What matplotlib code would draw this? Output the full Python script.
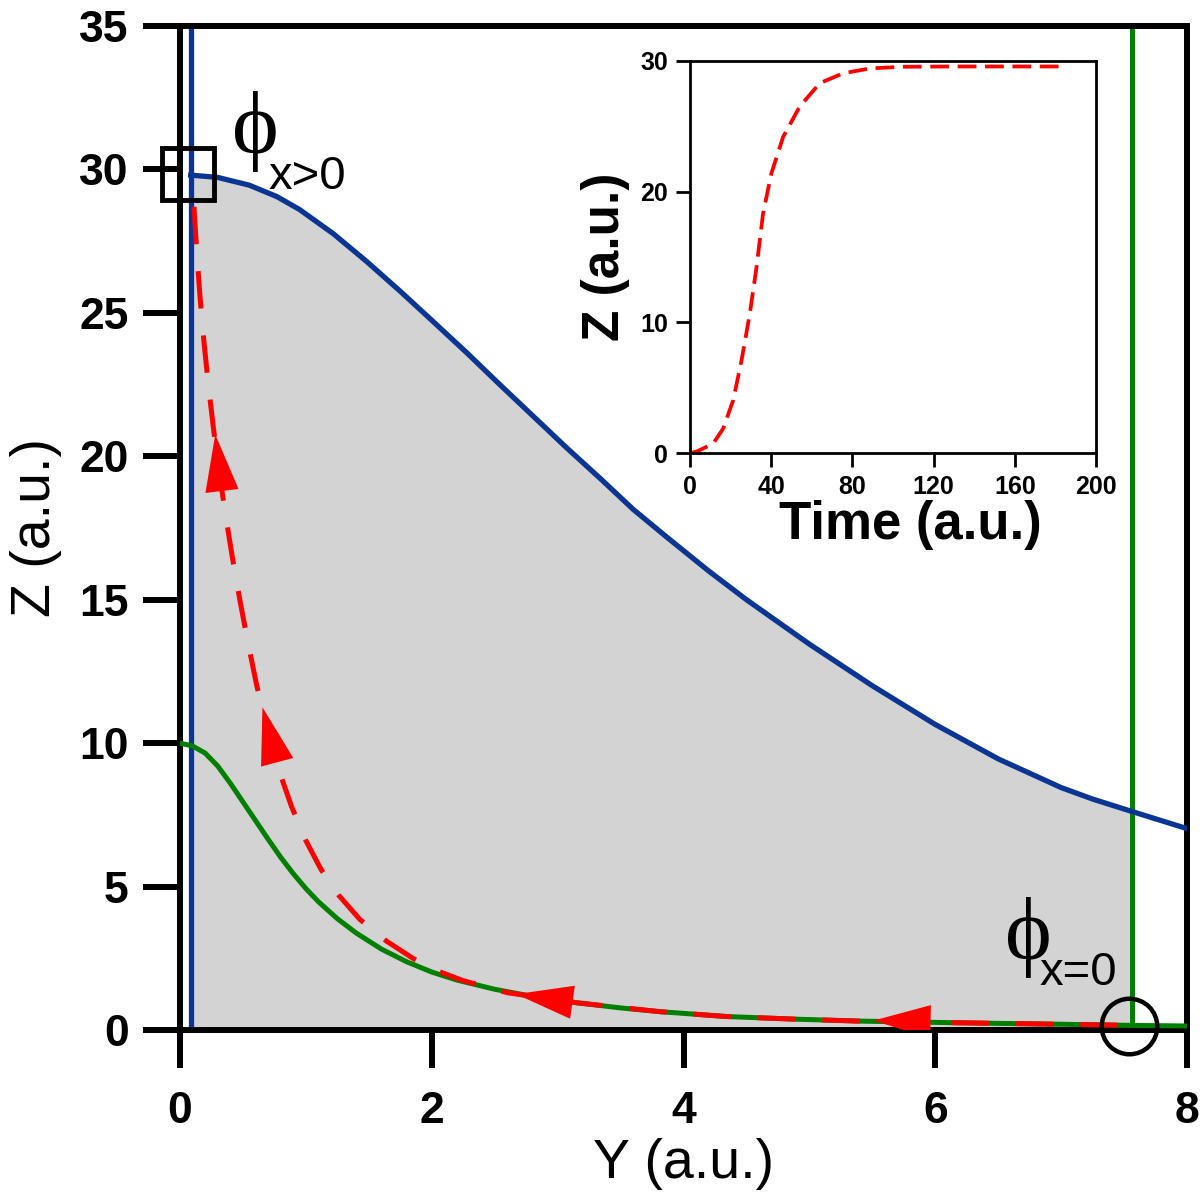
import numpy as np
import matplotlib
matplotlib.use("Agg")
import matplotlib.pyplot as plt
from matplotlib.patches import FancyArrowPatch

plt.rcParams['font.family'] = ['Liberation Sans', 'DejaVu Sans']

# upper (blue) boundary curve
blue_y = np.array([0.085, 0.3, 0.55, 0.77, 0.95, 1.22, 1.48, 1.75, 2.01, 2.28, 2.54, 2.81,
                   3.07, 3.34, 3.60, 3.87, 4.2, 4.5, 5.0, 5.5, 6.0, 6.5, 7.0, 7.25, 7.56, 8.0])
blue_z = np.array([29.8, 29.72, 29.45, 29.05, 28.6, 27.75, 26.8, 25.75, 24.7, 23.6, 22.5, 21.38,
                   20.3, 19.22, 18.15, 17.17, 16.0, 15.0, 13.45, 12.0, 10.65, 9.45, 8.45, 8.05,
                   7.62, 7.02])

# lower (green) curve
green_y = np.array([0.0, 0.1, 0.2, 0.3, 0.4, 0.5, 0.6, 0.7, 0.8, 0.9, 1.0, 1.1, 1.25, 1.4, 1.6,
                    1.8, 2.0, 2.2, 2.5, 2.8, 3.15, 3.5, 3.81, 4.34, 4.87, 5.4, 6.2, 7.0, 7.56, 8.0])
green_z = np.array([10.0, 9.9, 9.65, 9.2, 8.6, 7.95, 7.3, 6.65, 6.02, 5.45, 4.93, 4.47, 3.88, 3.38,
                    2.82, 2.38, 2.02, 1.74, 1.42, 1.17, 0.95, 0.77, 0.64, 0.47, 0.38, 0.31, 0.25,
                    0.2, 0.16, 0.14])

# vertical boundaries
blue_line_y = 0.085
green_line_y = 7.56

# red trajectory (in order of travel)
red_y = [7.45, 7.0, 6.2, 5.4, 4.87, 4.34, 3.81, 3.15, 2.6, 2.25, 2.02, 1.85, 1.64, 1.43, 1.26,
         1.12, 1.0, 0.885, 0.79, 0.695, 0.61, 0.54, 0.475, 0.415, 0.36, 0.31, 0.265, 0.225,
         0.19, 0.16, 0.135, 0.115, 0.10]
red_z = [0.17, 0.2, 0.25, 0.31, 0.38, 0.47, 0.64, 0.95, 1.30, 1.72, 2.1, 2.5, 3.1, 3.85, 4.7,
         5.6, 6.6, 7.8, 9.0, 10.5, 12.0, 13.5, 15.0, 16.5, 18.0, 19.5, 21.0, 22.5, 24.0, 25.5,
         27.0, 28.4, 29.6]

# arrow heads along the trajectory: (base, tip)
arrow_base = [(6.03, 0.28), (3.13, 0.96), (0.78, 9.2), (0.335, 18.73)]
arrow_tip = [(5.51, 0.33), (2.67, 1.25), (0.655, 11.25), (0.28, 20.76)]

# fixed points
start_pt = (7.54, 0.14)
end_pt = (0.066, 29.84)

# inset: Z against time
t_vals = [0, 3, 6.5, 11.5, 16.4, 21.3, 25.4, 29.5, 32.8, 36.0, 40.1, 45.9, 54, 63.9, 75.3,
          88.5, 104.8, 130, 160, 185]
t_z = [0, 0.1, 0.35, 0.74, 1.89, 4.05, 7.1, 10.69, 14.25, 18.34, 21.4, 24.2, 26.5, 28.3, 29.05,
       29.43, 29.56, 29.58, 29.58, 29.58]

fig = plt.figure(figsize=(12, 11.96), dpi=100)
ax = fig.add_axes([0.15, 0.1388, 0.8392, 0.8395])

inside = blue_y <= green_line_y
ax.fill_between(blue_y[inside], 0, blue_z[inside], color='#d3d3d3', lw=0, zorder=1)
ax.axvline(blue_line_y, color='#0a3595', lw=3.8, zorder=2)
ax.axvline(green_line_y, color='#008000', lw=3.6, zorder=2)
ax.plot(blue_y, blue_z, color='#0a3595', lw=3.8, zorder=3)
ax.plot(green_y, green_z, color='#008000', lw=3.6, zorder=3)
ax.plot(red_y, red_z, color='red', lw=3.6, dashes=(7.5, 5.4), zorder=4)

for b, t in zip(arrow_base, arrow_tip):
    ar = FancyArrowPatch(b, t, arrowstyle='-|>,head_length=41,head_width=12',
                         mutation_scale=1, shrinkA=0, shrinkB=0, color='red', lw=0, zorder=5)
    ax.add_patch(ar)

ax.plot(*end_pt, marker='s', ms=37, mfc='none', mec='black', mew=3.5, clip_on=False, zorder=6)
ax.plot(*start_pt, marker='o', ms=40, mfc='none', mec='black', mew=3.2, clip_on=False, zorder=6)

ax.set_xlim(0, 8)
ax.set_ylim(0, 35)
ax.set_xticks([0, 2, 4, 6, 8])
ax.set_yticks([0, 5, 10, 15, 20, 25, 30, 35])
ax.tick_params(direction='out', length=27, width=4.3, labelsize=32)
ax.tick_params(axis='x', pad=17)
ax.tick_params(axis='y', pad=10)
for lab in ax.get_xticklabels() + ax.get_yticklabels():
    lab.set_fontweight('bold')
for s in ax.spines.values():
    s.set_linewidth(4.3)
ax.set_xlabel('Y (a.u.)', fontsize=40)
ax.set_ylabel('Z (a.u.)', fontsize=40)
ax.xaxis.set_label_coords(0.5, -0.108)
ax.yaxis.set_label_coords(-0.117, 0.5)

# phi labels
ax.text(0.41, 32.74, '\u03d5', fontsize=64, family=['Liberation Serif', 'DejaVu Serif'],
        ha='left', va='top', zorder=7)
ax.text(0.70, 30.5, 'x>0', fontsize=34, ha='left', va='top', zorder=7)
ax.text(6.55, 4.63, '\u03d5', fontsize=64, family=['Liberation Serif', 'DejaVu Serif'],
        ha='left', va='top', zorder=7)
ax.text(6.83, 2.75, 'x=0', fontsize=34, ha='left', va='top', zorder=7)

# inset
ins = fig.add_axes([0.575, 0.6212, 0.3383, 0.3278])
ins.plot(t_vals, t_z, color='red', lw=2.7, dashes=(5, 2.3))
ins.set_xlim(0, 200)
ins.set_ylim(0, 30)
ins.set_xticks([0, 40, 80, 120, 160, 200])
ins.set_yticks([0, 10, 20, 30])
ins.tick_params(direction='out', length=10, width=2, labelsize=18, pad=6)
for lab in ins.get_xticklabels() + ins.get_yticklabels():
    lab.set_fontweight('bold')
for s in ins.spines.values():
    s.set_linewidth(2)
ins.set_xlabel('Time (a.u.)', fontsize=38, fontweight='bold')
ins.set_ylabel('Z (a.u.)', fontsize=37, fontweight='bold')
ins.xaxis.set_label_coords(0.542, -0.12)
ins.yaxis.set_label_coords(-0.148, 0.5)

fig.savefig('out.png', dpi=100)
